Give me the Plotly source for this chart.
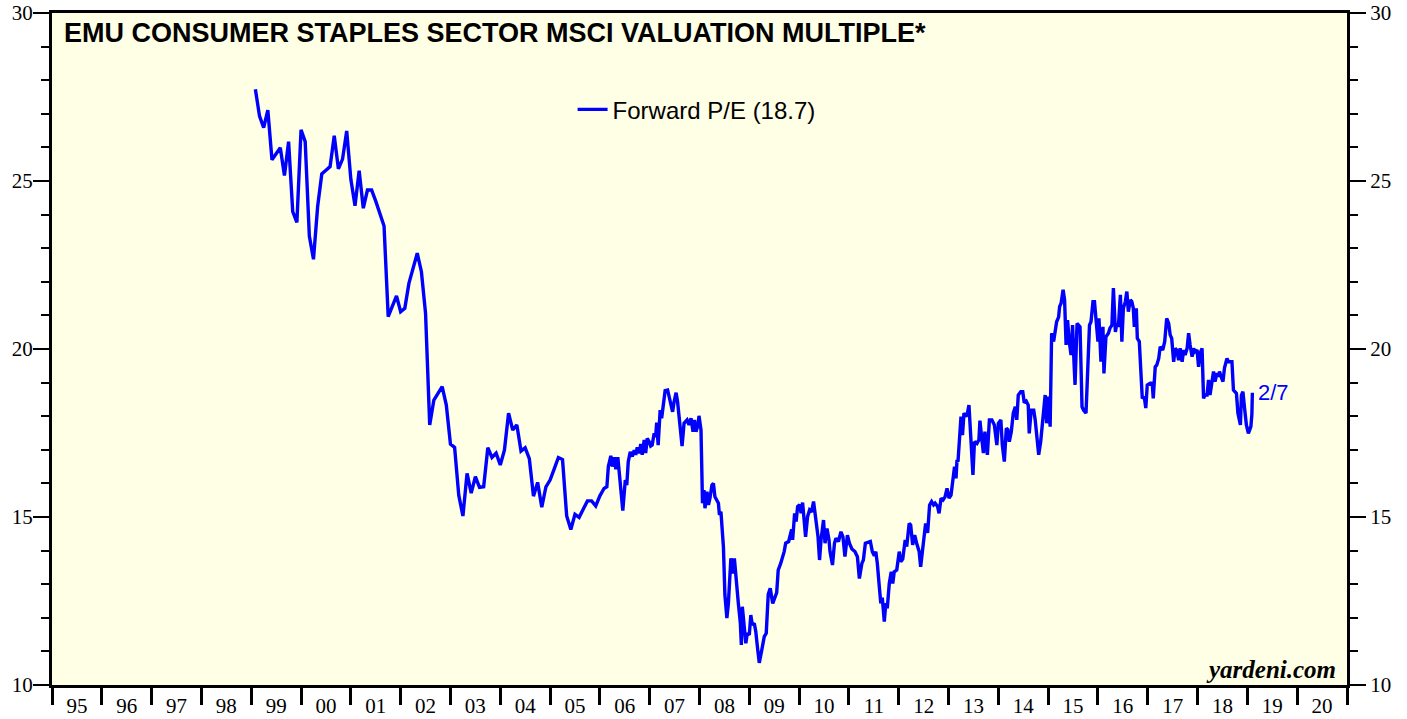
import plotly.graph_objects as go

# ---------------- data ----------------
# Monthly forward P/E, Feb 1999 .. Feb 2006
monthly_start_year = 1999
monthly_pe = [27.73, 26.93, 26.59, 27.11, 25.63, 25.81, 25.99, 25.16, 26.17, 24.09,
              23.77, 26.52, 26.17, 23.36, 22.67, 24.24, 25.21, 25.32, 25.43, 26.35,
              25.36, 25.65, 26.49, 25.05, 24.26, 25.31, 24.19, 24.73, 24.73, 24.40,
              24.04, 23.66, 20.96, 21.30, 21.58, 21.11, 21.21, 21.96, 22.40, 22.85,
              22.30, 21.06, 17.74, 18.48, 18.68, 18.88, 18.33, 17.17, 17.07, 15.65,
              15.03, 16.30, 15.71, 16.20, 15.88, 15.90, 17.06, 16.77, 16.90, 16.55,
              16.99, 18.09, 17.59, 17.74, 16.96, 17.06, 16.74, 15.62, 16.03, 15.29,
              15.90, 16.10, 16.43, 16.77, 16.71, 15.03, 14.63, 15.08, 14.99, 15.26,
              15.48, 15.48, 15.33, 15.63, 15.85]

# Weekly-ish readings afterwards (decimal year, value)
weekly_dates = [
    2006.14, 2006.17, 2006.22, 2006.25, 2006.29, 2006.32, 2006.36, 2006.41, 2006.46, 2006.51,
    2006.54, 2006.57, 2006.61, 2006.65, 2006.69, 2006.72, 2006.75, 2006.79, 2006.82, 2006.85,
    2006.89, 2006.92, 2006.95, 2006.99, 2007.02, 2007.05, 2007.09, 2007.12, 2007.14, 2007.17,
    2007.21, 2007.24, 2007.27, 2007.31, 2007.36, 2007.41, 2007.46, 2007.49, 2007.53, 2007.56,
    2007.61, 2007.65, 2007.69, 2007.75, 2007.79, 2007.83, 2007.87, 2007.90, 2007.93, 2007.97,
    2007.99, 2008.03, 2008.06, 2008.09, 2008.11, 2008.15, 2008.18, 2008.21, 2008.25, 2008.28,
    2008.31, 2008.35, 2008.38, 2008.40, 2008.43, 2008.48, 2008.51, 2008.55, 2008.58, 2008.63,
    2008.67, 2008.70, 2008.75, 2008.78, 2008.82, 2008.84, 2008.86, 2008.90, 2008.93, 2008.96,
    2009.00, 2009.03, 2009.06, 2009.10, 2009.13, 2009.17, 2009.20, 2009.25, 2009.30, 2009.34,
    2009.38, 2009.42, 2009.47, 2009.55, 2009.58, 2009.63, 2009.70, 2009.73, 2009.79, 2009.85,
    2009.87, 2009.91, 2009.94, 2009.97, 2010.01, 2010.04, 2010.07, 2010.13, 2010.17, 2010.21,
    2010.25, 2010.29, 2010.34, 2010.38, 2010.41, 2010.44, 2010.49, 2010.52, 2010.56, 2010.60,
    2010.62, 2010.67, 2010.71, 2010.74, 2010.79, 2010.84, 2010.88, 2010.92, 2010.97, 2011.01,
    2011.06, 2011.12, 2011.17, 2011.21, 2011.26, 2011.29, 2011.33, 2011.39, 2011.43, 2011.47,
    2011.51, 2011.54, 2011.57, 2011.61, 2011.64, 2011.67, 2011.71, 2011.74, 2011.77, 2011.81,
    2011.85, 2011.88, 2011.91, 2011.96, 2012.01, 2012.04, 2012.08, 2012.13, 2012.16, 2012.21,
    2012.24, 2012.28, 2012.32, 2012.36, 2012.41, 2012.44, 2012.48, 2012.51, 2012.54, 2012.58,
    2012.62, 2012.66, 2012.70, 2012.73, 2012.78, 2012.81, 2012.85, 2012.89, 2012.93, 2012.97,
    2013.01, 2013.05, 2013.09, 2013.12, 2013.15, 2013.17, 2013.19, 2013.22, 2013.25, 2013.28,
    2013.31, 2013.35, 2013.38, 2013.41, 2013.45, 2013.49, 2013.52, 2013.57, 2013.61, 2013.63,
    2013.67, 2013.70, 2013.73, 2013.78, 2013.82, 2013.87, 2013.92, 2013.97, 2014.00, 2014.05,
    2014.08, 2014.12, 2014.16, 2014.19, 2014.22, 2014.26, 2014.30, 2014.34, 2014.37, 2014.40,
    2014.45, 2014.49, 2014.52, 2014.56, 2014.60, 2014.62, 2014.66, 2014.71, 2014.74, 2014.77,
    2014.81, 2014.85, 2014.89, 2014.94, 2014.97, 2015.01, 2015.04, 2015.07, 2015.11, 2015.14,
    2015.17, 2015.21, 2015.23, 2015.26, 2015.30, 2015.33, 2015.36, 2015.39, 2015.42, 2015.46,
    2015.49, 2015.52, 2015.54, 2015.58, 2015.61, 2015.64, 2015.68, 2015.71, 2015.76, 2015.80,
    2015.83, 2015.86, 2015.90, 2015.93, 2015.96, 2016.00, 2016.02, 2016.06, 2016.10, 2016.12,
    2016.16, 2016.21, 2016.24, 2016.28, 2016.31, 2016.35, 2016.38, 2016.41, 2016.45, 2016.48,
    2016.51, 2016.55, 2016.58, 2016.61, 2016.65, 2016.68, 2016.71, 2016.73, 2016.77, 2016.79,
    2016.83, 2016.86, 2016.89, 2016.93, 2016.96, 2016.99, 2017.05, 2017.09, 2017.11, 2017.15,
    2017.18, 2017.22, 2017.25, 2017.30, 2017.34, 2017.38, 2017.42, 2017.45, 2017.48, 2017.52,
    2017.55, 2017.58, 2017.62, 2017.65, 2017.69, 2017.72, 2017.75, 2017.79, 2017.82, 2017.85,
    2017.89, 2017.92, 2017.95, 2017.99, 2018.02, 2018.05, 2018.09, 2018.12, 2018.15, 2018.19,
    2018.22, 2018.25, 2018.29, 2018.32, 2018.35, 2018.39, 2018.42, 2018.44, 2018.47, 2018.51,
    2018.54, 2018.59, 2018.62, 2018.65, 2018.69, 2018.72, 2018.78, 2018.81, 2018.86, 2018.88,
    2018.91, 2018.94, 2018.98, 2019.02, 2019.07, 2019.09, 2019.10]
weekly_pe = [
    15.90, 16.50, 16.82, 16.50, 16.78, 16.42, 16.78, 15.85, 15.19, 16.10,
    15.95, 16.65, 16.94, 16.80, 16.99, 16.85, 17.07, 16.90, 17.17, 16.85,
    17.29, 16.90, 17.34, 17.24, 17.11, 17.14, 17.49, 17.39, 17.81, 17.14,
    18.18, 17.94, 18.38, 18.76, 18.78, 18.48, 18.13, 18.43, 18.70, 18.43,
    17.59, 17.11, 17.79, 17.89, 17.74, 17.94, 17.54, 17.89, 17.54, 17.74,
    18.01, 17.59, 15.41, 15.80, 15.26, 15.75, 15.36, 15.56, 15.95, 16.00,
    15.60, 15.51, 15.41, 15.06, 15.16, 14.12, 12.68, 11.99, 12.43, 13.77,
    13.32, 13.77, 13.07, 12.43, 11.84, 11.19, 12.33, 11.74, 11.24, 11.54,
    11.49, 12.08, 11.79, 11.84, 11.59, 11.04, 10.66, 11.04, 11.44, 11.54,
    12.70, 12.88, 12.43, 12.75, 13.42, 13.62, 13.97, 14.22, 14.27, 14.63,
    14.32, 15.11, 14.86, 15.31, 15.36, 15.11, 15.43, 14.41, 15.01, 15.21,
    15.15, 15.46, 14.91, 14.41, 13.72, 14.32, 14.91, 14.22, 14.66, 14.32,
    13.97, 13.57, 14.22, 14.37, 14.27, 14.56, 14.41, 13.82, 14.46, 14.22,
    14.05, 13.97, 13.82, 13.17, 13.62, 13.72, 14.22, 14.24, 14.27, 13.97,
    13.85, 13.97, 13.62, 12.93, 12.43, 12.60, 11.89, 12.43, 12.28, 13.02,
    13.37, 13.02, 13.37, 13.42, 13.97, 13.67, 13.75, 14.32, 14.12, 14.81,
    14.76, 14.17, 14.46, 14.22, 13.97, 13.52, 14.02, 14.32, 14.81, 14.53,
    15.36, 15.46, 15.36, 15.41, 15.31, 15.11, 15.56, 15.51, 15.60, 15.85,
    15.56, 15.65, 16.15, 16.50, 16.15, 16.70, 16.65, 17.54, 17.99, 17.44,
    18.09, 17.99, 18.09, 18.33, 17.14, 16.25, 17.24, 17.19, 17.30, 17.87,
    17.30, 16.90, 17.54, 16.85, 17.89, 17.89, 17.74, 17.14, 17.79, 17.89,
    17.14, 16.65, 17.64, 17.60, 17.24, 17.54, 18.09, 18.28, 17.89, 18.63,
    18.73, 18.73, 18.40, 18.45, 18.33, 17.49, 18.18, 18.18, 17.89, 17.39,
    16.85, 17.24, 17.94, 18.63, 17.79, 18.58, 17.69, 20.47, 20.22, 20.50,
    20.81, 20.95, 21.26, 21.36, 21.76, 21.46, 20.12, 20.86, 20.26, 19.82,
    20.71, 19.57, 18.93, 20.76, 20.71, 20.66, 18.28, 18.18, 18.09, 19.57,
    20.71, 20.81, 21.41, 21.41, 20.86, 20.22, 20.91, 19.62, 20.66, 19.27,
    20.36, 20.47, 20.62, 20.71, 21.81, 20.51, 20.76, 20.66, 21.61, 20.22,
    21.21, 21.41, 21.71, 21.11, 21.46, 21.41, 21.21, 20.66, 21.21, 20.32,
    20.22, 19.52, 18.53, 18.58, 18.24, 18.93, 18.98, 18.98, 18.53, 19.47,
    19.52, 19.72, 20.07, 19.97, 20.22, 20.91, 20.76, 20.42, 20.32, 19.62,
    20.02, 19.97, 19.67, 20.02, 19.62, 19.97, 19.82, 20.02, 20.47, 20.12,
    19.77, 20.02, 19.92, 19.97, 19.47, 19.87, 20.02, 18.53, 18.63, 18.63,
    19.08, 18.63, 19.08, 19.33, 19.03, 19.28, 19.18, 19.33, 19.18, 19.03,
    19.43, 19.72, 19.62, 19.62, 19.62, 18.78, 18.68, 18.09, 17.74, 18.63,
    18.73, 18.28, 17.74, 17.49, 17.69, 18.05, 18.70]

year_labels = ["95", "96", "97", "98", "99", "00", "01", "02", "03", "04", "05", "06", "07",
               "08", "09", "10", "11", "12", "13", "14", "15", "16", "17", "18", "19", "20"]
first_year = 1995
y_major = [10, 15, 20, 25, 30]
series_name = "Forward P/E (18.7)"
last_label = "2/7"
title_text = "EMU CONSUMER STAPLES SECTOR MSCI VALUATION MULTIPLE*"

# ---------------- build ----------------
monthly_dates = [monthly_start_year + (m + 1) / 12 for m in range(len(monthly_pe))]
x_all = monthly_dates + weekly_dates
y_all = monthly_pe + weekly_pe

BLUE = "#0000FF"
serif = "Liberation Serif, Times New Roman, serif"
sans = "Liberation Sans, Arial, sans-serif"

fig = go.Figure()
fig.add_trace(go.Scatter(x=x_all, y=y_all, mode="lines", name=series_name,
                         line=dict(color=BLUE, width=3.4), hoverinfo="skip"))
# invisible twin for right axis
fig.add_trace(go.Scatter(x=x_all[:1], y=y_all[:1], yaxis="y2", mode="markers",
                         marker=dict(opacity=0), showlegend=False, hoverinfo="skip"))

label_pos = [first_year + i + 0.5 for i in range(len(year_labels))]
x_end = first_year + len(year_labels)

axis_common = dict(range=[10, 30], tickvals=y_major, ticks="outside", ticklen=16,
                   tickwidth=2, tickcolor="black", showline=True, linewidth=3,
                   linecolor="black", showgrid=False, zeroline=False, automargin=False,
                   ticklabeloverflow="allow",
                   tickfont=dict(family=serif, size=21, color="black"),
                   minor=dict(dtick=1, tick0=10, ticks="outside", ticklen=8,
                              tickwidth=2, tickcolor="black", showgrid=False))

fig.update_layout(
    width=1407, height=719,
    margin=dict(l=52, r=60, t=13, b=34),
    paper_bgcolor="white",
    plot_bgcolor="#FFFFE5",
    showlegend=True,
    legend=dict(x=0.402, y=0.856, xanchor="left", yanchor="middle",
                bgcolor="rgba(0,0,0,0)", font=dict(family=sans, size=24, color="black")),
    xaxis=dict(range=[first_year, x_end], tickvals=label_pos, ticktext=year_labels,
               ticks="", ticklen=0, showline=True, linewidth=3, linecolor="black",
               mirror=True, showgrid=False, zeroline=False, automargin=False,
               ticklabelstandoff=0, ticklabeloverflow="allow",
               tickfont=dict(family=serif, size=21, color="black"),
               minor=dict(tick0=first_year, dtick=1, ticks="outside", ticklen=17,
                          tickwidth=3, tickcolor="black", showgrid=False)),
    yaxis=dict(side="left", ticklabelstandoff=-4, **axis_common),
    yaxis2=dict(side="right", overlaying="y", **axis_common),
)

fig.add_annotation(text="<b>" + title_text + "</b>", xref="paper", yref="paper",
                   x=0.008, y=0.995, xanchor="left", yanchor="top", showarrow=False,
                   font=dict(family=sans, size=27, color="black"))
fig.add_annotation(text="<b><i>yardeni.com</i></b>", xref="paper", yref="paper",
                   x=0.993, y=0.0, xanchor="right", yanchor="bottom", showarrow=False,
                   font=dict(family=serif, size=25, color="black"))
fig.add_annotation(text=last_label, x=x_all[-1], y=y_all[-1], xanchor="left",
                   yanchor="middle", xshift=4, showarrow=False,
                   font=dict(family=sans, size=22, color=BLUE))

fig.write_html("out.html", config={"displayModeBar": False},
               post_script="document.body.style.margin='0';")
